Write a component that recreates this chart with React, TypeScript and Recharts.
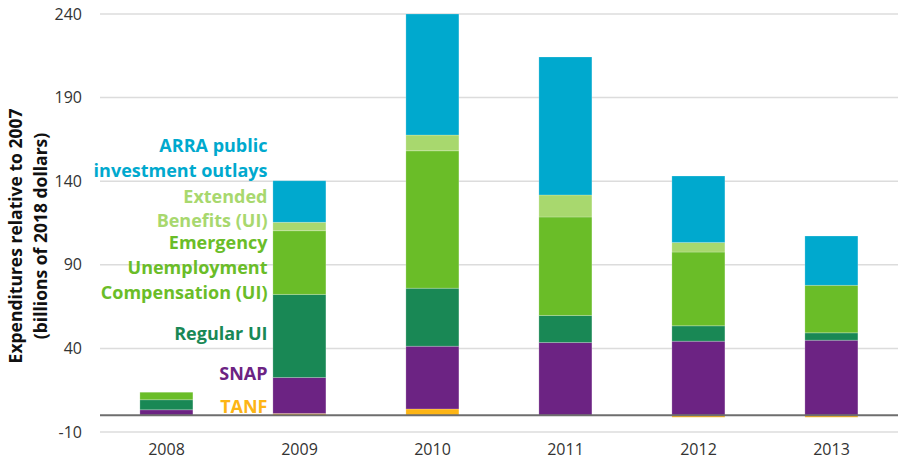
import React from 'react';
import { BarChart, Bar, XAxis, YAxis, CartesianGrid, ReferenceLine, ReferenceDot } from 'recharts';

const years = ['2008', '2009', '2010', '2011', '2012', '2013'];
const tanf = [0, 1, 3.8, 0, -1.2, -1.2];
const snap = [3.3, 21.6, 37.5, 43.5, 44.3, 44.9];
const regularUI = [6, 49.7, 34.7, 16.2, 9.2, 4.4];
const euc = [4.5, 38.1, 82.2, 58.9, 44.1, 28.4];
const extendedBenefits = [0, 5, 9.4, 13.2, 5.8, 0];
const arra = [0, 24.9, 72.6, 82.5, 39.7, 29.5];
const yTicks = [-10, 40, 90, 140, 190, 240];

const COLORS = {
  tanf: '#FDB515',
  snap: '#6C2383',
  regularUI: '#198855',
  euc: '#6ABD28',
  eb: '#A8D86E',
  arra: '#00A9CE',
};

// series annotation lines: text, value (vertical position in data units), colour
const annotations = [
  { text: 'ARRA public', value: 161.5, color: COLORS.arra },
  { text: 'investment outlays', value: 146.5, color: COLORS.arra },
  { text: 'Extended', value: 131, color: COLORS.eb },
  { text: 'Benefits (UI)', value: 116.5, color: COLORS.eb },
  { text: 'Emergency', value: 103.5, color: COLORS.euc },
  { text: 'Unemployment', value: 88.5, color: COLORS.euc },
  { text: 'Compensation (UI)', value: 73.5, color: COLORS.euc },
  { text: 'Regular UI', value: 49, color: COLORS.regularUI },
  { text: 'SNAP', value: 24.6, color: COLORS.snap },
  { text: 'TANF', value: 5.4, color: COLORS.tanf },
];

const data = years.map((y, i) => ({
  year: y,
  tanf: tanf[i],
  snap: snap[i],
  regularUI: regularUI[i],
  euc: euc[i],
  eb: extendedBenefits[i],
  arra: arra[i],
}));

const FONT = '"Open Sans", "DejaVu Sans", sans-serif';

const YTitle = () => (
  <g>
    <text
      transform="translate(22, 236) rotate(-90)"
      textAnchor="middle"
      fontFamily={FONT}
      fontWeight={700}
      fontSize={17.5}
      fill="#111"
    >
      Expenditures relative to 2007
    </text>
    <text
      transform="translate(47, 236) rotate(-90)"
      textAnchor="middle"
      fontFamily={FONT}
      fontWeight={700}
      fontSize={17.5}
      fill="#111"
    >
      (billions of 2018 dollars)
    </text>
  </g>
);

const makeAnnLabel = (text: string, color: string) => (props: any) => {
  const vb = props.viewBox || {};
  const cx = (vb.x ?? 0) + (vb.width ?? 0) / 2;
  const cy = (vb.y ?? 0) + (vb.height ?? 0) / 2;
  return (
    <text
      x={cx - 32}
      y={cy}
      dy="0.35em"
      textAnchor="end"
      fontFamily={FONT}
      fontWeight={700}
      fontSize={18}
      fill={color}
    >
      {text}
    </text>
  );
};

const barStroke = { stroke: '#ffffff', strokeOpacity: 0.35, strokeWidth: 0.6 };

export default function App() {
  return (
    <div style={{ position: 'absolute', left: 0, top: 0, width: 899, height: 467, background: '#fff' }}>
      <BarChart
        width={899}
        height={467}
        data={data}
        stackOffset="sign"
        barCategoryGap="30%"
        margin={{ top: 14, right: 1, bottom: 0, left: 0 }}
      >
        <CartesianGrid vertical={false} stroke="#dcdcdc" strokeWidth={1.5} />
        <XAxis
          dataKey="year"
          axisLine={false}
          tickLine={false}
          tickSize={0}
          tickMargin={12}
          height={35}
          tick={{ fontFamily: FONT, fontSize: 16, fill: '#333' }}
        />
        <YAxis
          domain={[-10, 240]}
          ticks={yTicks}
          width={100}
          axisLine={false}
          tickLine={false}
          tickSize={0}
          tickMargin={18}
          interval={0}
          allowDataOverflow
          tick={{ fontFamily: FONT, fontSize: 16, fill: '#333' }}
          label={{ content: () => <YTitle /> }}
        />
        <Bar dataKey="tanf" stackId="a" fill={COLORS.tanf} isAnimationActive={false} {...barStroke} />
        <Bar dataKey="snap" stackId="a" fill={COLORS.snap} isAnimationActive={false} {...barStroke} />
        <Bar dataKey="regularUI" stackId="a" fill={COLORS.regularUI} isAnimationActive={false} {...barStroke} />
        <Bar dataKey="euc" stackId="a" fill={COLORS.euc} isAnimationActive={false} {...barStroke} />
        <Bar dataKey="eb" stackId="a" fill={COLORS.eb} isAnimationActive={false} {...barStroke} />
        <Bar dataKey="arra" stackId="a" fill={COLORS.arra} isAnimationActive={false} {...barStroke} />
        <ReferenceLine y={0} stroke="#6e6e6e" strokeWidth={2} />
        {annotations.map((a) => (
          <ReferenceDot
            key={a.text}
            x="2009"
            y={a.value}
            r={1}
            fill="none"
            stroke="none"
            label={{ content: makeAnnLabel(a.text, a.color) }}
          />
        ))}
      </BarChart>
    </div>
  );
}
